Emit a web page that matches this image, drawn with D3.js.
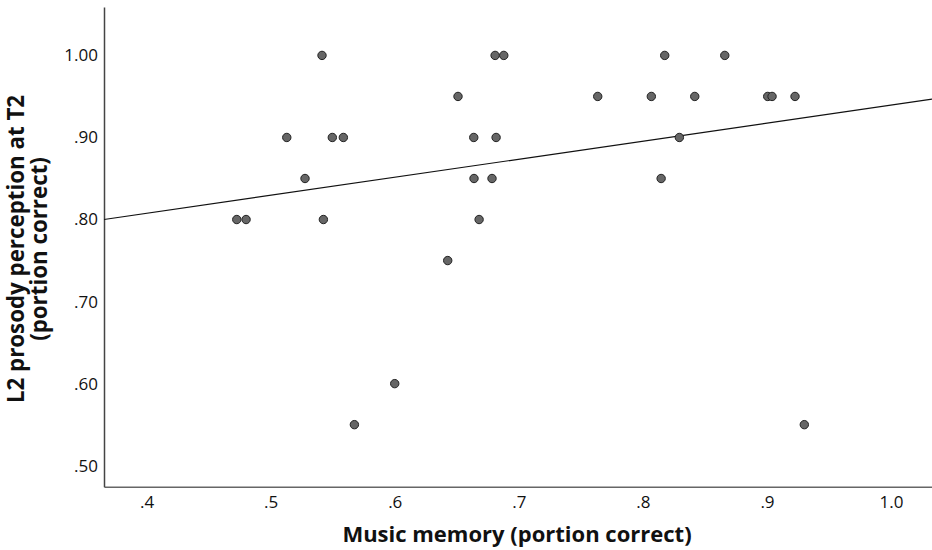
<!DOCTYPE html>
<html><head><meta charset="utf-8">
<script src="https://cdn.jsdelivr.net/npm/d3@7"></script>
<style>body{margin:0;background:#fff}svg{display:block}</style>
</head><body>
<script>
const xVals = [0.5414,0.6809,0.6879,0.8176,0.8660,
  0.6510,0.7636,0.8068,0.8418,0.9006,0.9041,0.9226,
  0.5130,0.5497,0.5586,0.6637,0.6817,0.8294,
  0.5277,0.6639,0.6784,0.8147,
  0.4727,0.4802,0.5425,0.6680,
  0.6427,
  0.6000,
  0.5675,0.9301];
const yVals = [1.00,1.00,1.00,1.00,1.00,
  0.95,0.95,0.95,0.95,0.95,0.95,0.95,
  0.90,0.90,0.90,0.90,0.90,0.90,
  0.85,0.85,0.85,0.85,
  0.80,0.80,0.80,0.80,
  0.75,
  0.60,
  0.55,0.55];
const xTicks = [0.4,0.5,0.6,0.7,0.8,0.9,1.0];
const xTickLabels = [".4",".5",".6",".7",".8",".9","1.0"];
const yTicks = [0.5,0.6,0.7,0.8,0.9,1.0];
const yTickLabels = [".50",".60",".70",".80",".90","1.00"];
const fitIntercept = 0.7197;
const fitSlope = 0.2197;
const xTitle = "Music memory (portion correct)";
const yTitle = ["L2 prosody perception at T2","(portion correct)"];

const W=932,H=550;
const svg=d3.select("body").append("svg").attr("width",W).attr("height",H);
const x=d3.scaleLinear().domain([0.3657,1.033]).range([104,932]);
const y=d3.scaleLinear().domain([0.4744,1.059]).range([486.7,7]);
const font="'Open Sans', 'DejaVu Sans', sans-serif";

const xAxis=d3.axisBottom(x).tickValues(xTicks).tickFormat((d,i)=>xTickLabels[i]).tickSize(0).tickPadding(9);
const gx=svg.append("g").attr("transform","translate(0,486.7)").call(xAxis);
gx.select(".domain").attr("stroke","#666").attr("stroke-width",1.5);
gx.selectAll("text").attr("font-family",font).attr("font-size",17).attr("fill","#111");

const yAxis=d3.axisLeft(y).tickValues(yTicks).tickFormat((d,i)=>yTickLabels[i]).tickSize(0).tickPadding(6);
const gy=svg.append("g").attr("transform","translate(104,0)").call(yAxis);
gy.select(".domain").attr("stroke","#444").attr("stroke-width",1.5);
gy.selectAll("text").attr("font-family",font).attr("font-size",17).attr("fill","#111");

// regression line
const x0=x.domain()[0], x1=x.domain()[1];
svg.append("line").attr("x1",x(x0)).attr("y1",y(fitIntercept+fitSlope*x0))
  .attr("x2",x(x1)).attr("y2",y(fitIntercept+fitSlope*x1))
  .attr("stroke","#111").attr("stroke-width",1.2);

svg.append("g").selectAll("circle").data(xVals).join("circle")
  .attr("cx",(d)=>x(d)).attr("cy",(d,i)=>y(yVals[i])).attr("r",4.2)
  .attr("fill","#666").attr("stroke","#222").attr("stroke-width",1);

svg.append("text").attr("x",517).attr("y",542).attr("text-anchor","middle")
  .attr("font-family",font).attr("font-weight","bold").attr("font-size",22).attr("fill","#111").text(xTitle);

const yt=svg.append("text").attr("transform","translate(0,249) rotate(-90)").attr("text-anchor","middle")
  .attr("font-family",font).attr("font-weight","bold").attr("font-size",22.3).attr("fill","#111");
yt.append("tspan").attr("x",0).attr("y",24).text(yTitle[0]);
yt.append("tspan").attr("x",0).attr("y",47).text(yTitle[1]);
</script>
</body></html>
